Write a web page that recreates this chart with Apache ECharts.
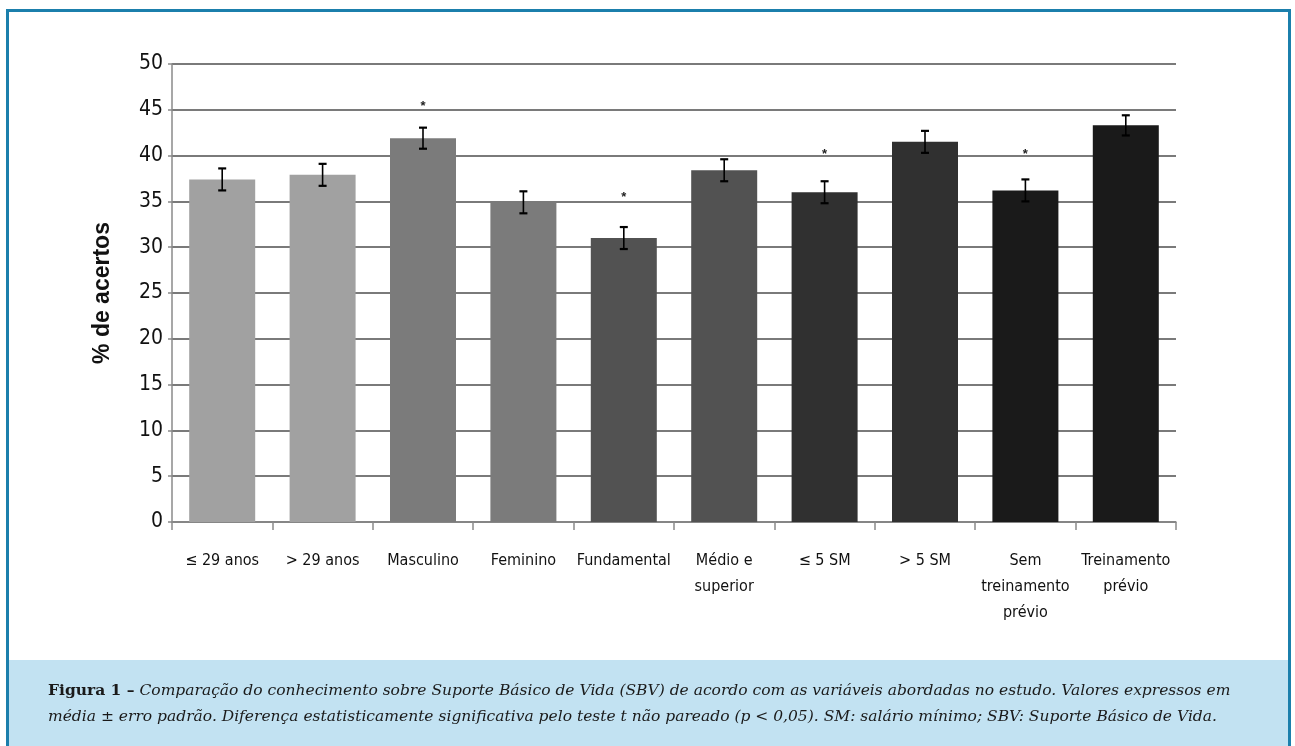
<!DOCTYPE html>
<html>
<head>
<meta charset="utf-8">
<script src="https://cdn.jsdelivr.net/npm/echarts@6/dist/echarts.min.js"></script>
<style>
  html, body { margin: 0; padding: 0; background: #fff; }
  #chart { width: 1295px; height: 746px; }
</style>
</head>
<body>
<div id="chart"></div>
<script>
// categorias e valores (média ± erro padrão)
var categories = ['≤ 29 anos', '> 29 anos', 'Masculino', 'Feminino', 'Fundamental',
  'Médio e\nsuperior', '≤ 5 SM', '> 5 SM', 'Sem\ntreinamento\nprévio', 'Treinamento\nprévio'];
var means = [37.4, 37.9, 41.9, 34.9, 31.0, 38.4, 36.0, 41.5, 36.2, 43.3];
var errs = [1.2, 1.2, 1.15, 1.2, 1.2, 1.2, 1.2, 1.2, 1.2, 1.1];
// posição dos asteriscos (diferença significativa)
var starY = [null, null, 45.6, null, 35.7, null, 40.3, null, 40.3, null];
var barColors = ['#a1a1a1', '#a1a1a1', '#7b7b7b', '#7b7b7b', '#525252',
  '#525252', '#303030', '#303030', '#1a1a1a', '#1a1a1a'];
var yTicks = [0, 5, 10, 15, 20, 25, 30, 35, 40, 45, 50];

var narrow = "'Liberation Sans Narrow', 'DejaVu Sans Condensed', 'Liberation Sans', sans-serif";
var serif = '"DejaVu Serif", "Liberation Serif", serif';

(function() {
    var myChart = echarts.init(document.getElementById('chart'));

    var errData = means.map(function(m, i) {
        return [i, m - errs[i], m + errs[i]];
    });
    var starData = [];
    starY.forEach(function(v, i) {
        if (v !== null) starData.push([i, v]);
    });

    var option = {
        animation: false,
        grid: { left: 172, right: 119, top: 64, bottom: 224 },
        xAxis: {
            type: 'category',
            data: categories,
            axisLine: { lineStyle: { color: '#8a8a8a', width: 1.5 } },
            axisTick: { show: true, alignWithLabel: false, length: 8, lineStyle: { color: '#8a8a8a', width: 1.5 } },
            axisLabel: {
                color: '#111',
                fontFamily: narrow,
                fontSize: 16,
                lineHeight: 26,
                margin: 26,
                interval: 0
            }
        },
        yAxis: {
            type: 'value',
            min: yTicks[0],
            max: yTicks[yTicks.length - 1],
            interval: 5,
            name: '% de acertos',
            nameLocation: 'middle',
            nameRotate: 90,
            nameGap: 58,
            nameTextStyle: {
                color: '#111',
                fontFamily: "'Liberation Sans', Arial, sans-serif",
                fontWeight: 'bold',
                fontSize: 23
            },
            axisLine: { show: true, lineStyle: { color: '#8a8a8a', width: 1.5 } },
            axisTick: { show: true, length: 4, lineStyle: { color: '#8a8a8a', width: 1.5 } },
            axisLabel: {
                color: '#111',
                fontFamily: narrow,
                fontSize: 21,
                margin: 9
            },
            splitLine: { lineStyle: { color: '#7a7a7a', width: 2 } }
        },
        series: [{
            type: 'bar',
            barWidth: 66,
            data: means.map(function(m, i) {
                return { value: m, itemStyle: { color: barColors[i] } };
            }),
            z: 2
        }, {
            // barras de erro
            type: 'custom',
            data: errData,
            z: 3,
            renderItem: function(params, api) {
                var x = api.value(0);
                var pLo = api.coord([x, api.value(1)]);
                var pHi = api.coord([x, api.value(2)]);
                var w = 4;
                var st = { stroke: '#000', lineWidth: 1.6 };
                return {
                    type: 'group',
                    children: [
                        { type: 'line', shape: { x1: pHi[0], y1: pHi[1], x2: pLo[0], y2: pLo[1] }, style: st },
                        { type: 'line', shape: { x1: pHi[0] - w, y1: pHi[1], x2: pHi[0] + w, y2: pHi[1] }, style: { stroke: '#000', lineWidth: 2.2 } },
                        { type: 'line', shape: { x1: pLo[0] - w, y1: pLo[1], x2: pLo[0] + w, y2: pLo[1] }, style: { stroke: '#000', lineWidth: 2.2 } }
                    ]
                };
            }
        }, {
            // asteriscos
            type: 'custom',
            data: starData,
            z: 3,
            renderItem: function(params, api) {
                var p = api.coord([api.value(0), api.value(1)]);
                return {
                    type: 'text',
                    style: {
                        x: p[0], y: p[1] + 2,
                        text: '*',
                        fill: '#222',
                        font: 'bold 13px "Liberation Sans", sans-serif',
                        align: 'center',
                        verticalAlign: 'middle'
                    }
                };
            }
        }],
        graphic: [{
            type: 'rect',
            shape: { x: 9, y: 660, width: 1280, height: 90 },
            style: { fill: '#c2e2f2' },
            z: 0
        }, {
            type: 'rect',
            shape: { x: 7.5, y: 10.5, width: 1282, height: 760 },
            style: { fill: 'none', stroke: '#1b7fac', lineWidth: 3 },
            z: 1
        }, {
            type: 'text',
            left: 48,
            top: 683,
            style: {
                text: '{b|Figura 1 –} {i|Comparação do conhecimento sobre Suporte Básico de Vida (SBV) de acordo com as variáveis abordadas no estudo. Valores expressos em}',
                rich: {
                    b: { font: 'bold 15.5px ' + serif, fill: '#1a1a1a' },
                    i: { font: 'italic 15.5px ' + serif, fill: '#1a1a1a' }
                },
                font: 'italic 15.5px ' + serif,
                fill: '#1a1a1a'
            }
        }, {
            type: 'text',
            left: 48,
            top: 709,
            style: {
                text: 'média ± erro padrão. Diferença estatisticamente significativa pelo teste t não pareado (p < 0,05). SM: salário mínimo; SBV: Suporte Básico de Vida.',
                font: 'italic 15.5px ' + serif,
                fill: '#1a1a1a'
            }
        }]
    };

    myChart.setOption(option);
})();
</script>
</body>
</html>
